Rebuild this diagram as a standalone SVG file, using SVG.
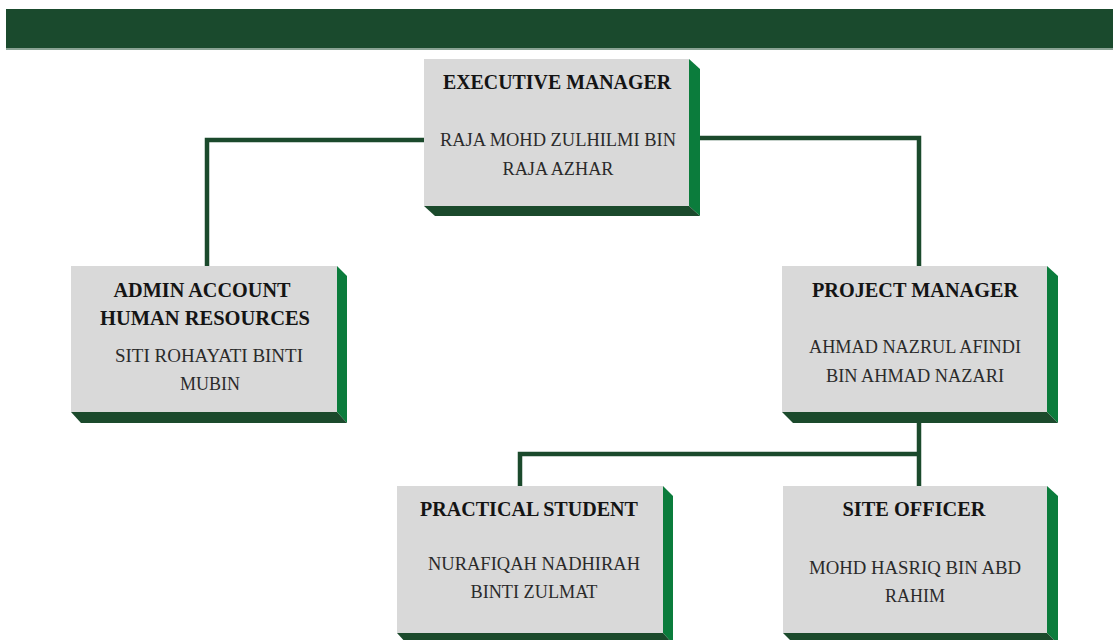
<svg xmlns="http://www.w3.org/2000/svg" width="1113" height="640" viewBox="0 0 1113 640">
<defs>
<style>
.face{fill:#d9d9d9}
.side{fill:#0b7c3c}
.bot{fill:#1b4a2c}
.t{font-family:"Liberation Serif","Times New Roman",serif;font-weight:bold;font-size:21px;fill:#141414;text-anchor:middle}
.n{font-family:"Liberation Serif","Times New Roman",serif;font-size:18.5px;fill:#2a2a2a;text-anchor:middle}
.c{fill:none;stroke:#1b4a2c;stroke-width:4.5;stroke-linejoin:miter}
</style>
</defs>
<rect width="1113" height="640" fill="#ffffff"/>
<rect x="6" y="9" width="1107" height="39" fill="#1a4a2d"/>
<rect x="6" y="48" width="1107" height="2" fill="#8aa394"/>
<g id="connectors">
<polyline class="c" points="424,140 207,140 207,266"/>
<polyline class="c" points="689,138 919,138 919,266"/>
<polyline class="c" points="919,423 919,486"/>
<polyline class="c" points="919,454 520,454 520,486"/>
</g>
<g id="executive">
<polygon class="side" points="689,59 700,69 700,216 689,206"/>
<polygon class="bot" points="424,206 689,206 700,216 435,216"/>
<rect class="face" x="424" y="59" width="265" height="147"/>
<text class="t" x="557" y="89" textLength="228" lengthAdjust="spacingAndGlyphs">EXECUTIVE MANAGER</text>
<text class="n" x="558" y="146" textLength="236" lengthAdjust="spacingAndGlyphs">RAJA MOHD ZULHILMI BIN</text>
<text class="n" x="558" y="175" textLength="111" lengthAdjust="spacingAndGlyphs">RAJA AZHAR</text>
</g>
<g id="admin">
<polygon class="side" points="337,266 347,276 347,423 337,412"/>
<polygon class="bot" points="71,412 337,412 347,423 81,423"/>
<rect class="face" x="71" y="266" width="266" height="146"/>
<text class="t" x="202" y="297" textLength="177" lengthAdjust="spacingAndGlyphs">ADMIN ACCOUNT</text>
<text class="t" x="205" y="325" textLength="210" lengthAdjust="spacingAndGlyphs">HUMAN RESOURCES</text>
<text class="n" x="209" y="362" textLength="188" lengthAdjust="spacingAndGlyphs">SITI ROHAYATI BINTI</text>
<text class="n" x="210" y="390" textLength="60" lengthAdjust="spacingAndGlyphs">MUBIN</text>
</g>
<g id="project">
<polygon class="side" points="1047,266 1058,276 1058,423 1047,412"/>
<polygon class="bot" points="782,412 1047,412 1058,423 793,423"/>
<rect class="face" x="782" y="266" width="265" height="146"/>
<text class="t" x="915" y="297" textLength="206" lengthAdjust="spacingAndGlyphs">PROJECT MANAGER</text>
<text class="n" x="915" y="353" textLength="212" lengthAdjust="spacingAndGlyphs">AHMAD NAZRUL AFINDI</text>
<text class="n" x="915" y="382" textLength="178" lengthAdjust="spacingAndGlyphs">BIN AHMAD NAZARI</text>
</g>
<g id="practical">
<polygon class="side" points="663,486 673,496 673,644 663,633"/>
<polygon class="bot" points="397,633 663,633 673,644 407,644"/>
<rect class="face" x="397" y="486" width="266" height="147"/>
<text class="t" x="529" y="516" textLength="218" lengthAdjust="spacingAndGlyphs">PRACTICAL STUDENT</text>
<text class="n" x="534" y="570" textLength="212" lengthAdjust="spacingAndGlyphs">NURAFIQAH NADHIRAH</text>
<text class="n" x="534" y="598" textLength="127" lengthAdjust="spacingAndGlyphs">BINTI ZULMAT</text>
</g>
<g id="site">
<polygon class="side" points="1047,486 1058,496 1058,644 1047,633"/>
<polygon class="bot" points="783,633 1047,633 1058,644 794,644"/>
<rect class="face" x="783" y="486" width="264" height="147"/>
<text class="t" x="914" y="516" textLength="143" lengthAdjust="spacingAndGlyphs">SITE OFFICER</text>
<text class="n" x="915" y="574" textLength="212" lengthAdjust="spacingAndGlyphs">MOHD HASRIQ BIN ABD</text>
<text class="n" x="915" y="602" textLength="60" lengthAdjust="spacingAndGlyphs">RAHIM</text>
</g>
</svg>
